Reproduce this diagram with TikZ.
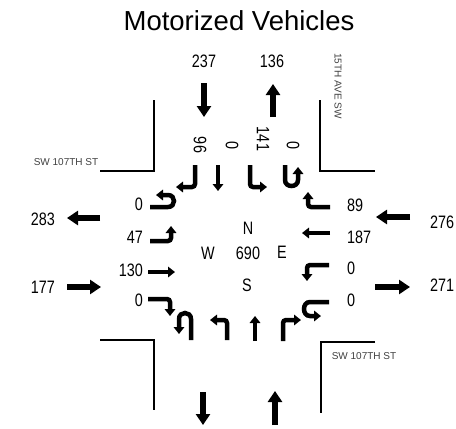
\documentclass[tikz,border=0pt]{standalone}
\usepackage{fontspec}
\setmainfont{Liberation Sans}
\newfontfamily\narrowfont[FakeStretch=0.8]{Liberation Sans}
\usepackage{tikz}
\usetikzlibrary{arrows.meta}

\begin{document}
\begin{tikzpicture}[
  x=1pt, y=-1pt,
  road/.style={line width=1.5pt},
  bigarrow/.style={line width=6pt, -{Triangle[length=11pt, width=14pt]}},
  turn/.style={line width=4.5pt, rounded corners=3pt, -{Triangle[length=7pt, width=10.5pt]}},
  count/.style={font=\narrowfont\fontsize{18}{18}\selectfont, inner sep=0pt},
  street/.style={font=\fontsize{10}{10}\selectfont, text=black!75, inner sep=0pt}
]
\useasboundingbox (0,0) rectangle (456,429);

% Title
\node[font=\fontsize{27.5}{28}\selectfont, inner sep=0pt] (title) at (239,21) {Motorized Vehicles};

% Curb lines
\draw[road] (100,171) -- (154,171) -- (154,100);
\draw[road] (320,100) -- (320,171) -- (375,171);
\draw[road] (100,340) -- (154,340) -- (154,410);
\draw[road] (375,342) -- (321,342) -- (321,413);

% Street names
\node[street] (wst) at (66,162) {SW 107TH ST};
\node[street] (est) at (364,356) {SW 107TH ST};
\node[street, rotate=-90] (nst) at (338,86) {15TH AVE SW};

% Approach and departure totals
\node[count] (ntot) at (204,61) {237};
\node[count] (nout) at (272,61) {136};
\node[count, anchor=east] (wout) at (55,219) {283};
\node[count, anchor=east] (wtot) at (55,287) {177};
\node[count, anchor=west] (etot) at (430,222) {276};
\node[count, anchor=west] (eout) at (430,285) {271};

\draw[bigarrow] (204,83) -- (204,117);
\draw[bigarrow] (273,117) -- (273,84);
\draw[bigarrow] (203,392) -- (203,425);
\draw[bigarrow] (275,425) -- (275,391);
\draw[bigarrow] (100,218) -- (67,218);
\draw[bigarrow] (67,287) -- (101,287);
\draw[bigarrow] (410,217) -- (376,217);
\draw[bigarrow] (375,287) -- (410,287);

% North leg movements
\node[count, rotate=-90] (nr) at (200,145) {96};
\node[count, rotate=-90] (nt) at (232,146) {0};
\node[count, rotate=-90] (nl) at (263,139) {141};
\node[count, rotate=-90] (nu) at (293,146) {0};
\draw[turn] (195,165) -- (195,187) -- (176,187);
\draw[turn] (218,165) -- (218,191);
\draw[turn] (250,165) -- (250,187) -- (267,187);
\draw[turn] (285,165) -- (285,177) .. controls (285,188) and (298,188) .. (298,177) -- (298,167);

% West leg movements
\node[count, anchor=east] (wu) at (143,204) {0};
\node[count, anchor=east] (wl) at (143,237) {47};
\node[count, anchor=east] (wt) at (143,270) {130};
\node[count, anchor=east] (wr) at (143,300) {0};
\draw[turn] (150,207) -- (165,207) .. controls (176,207) and (176,195) .. (165,195) -- (156,195);
\draw[turn] (150,241) -- (171,241) -- (171,226);
\draw[turn] (148,272) -- (175,272);
\draw[turn] (148,299) -- (170,299) -- (170,316);

% East leg movements
\node[count, anchor=west] (er) at (347,205) {89};
\node[count, anchor=west] (et) at (347,237) {187};
\node[count, anchor=west] (el) at (347,268) {0};
\node[count, anchor=west] (eu) at (347,300) {0};
\draw[turn] (330,207) -- (308,207) -- (308,192);
\draw[turn] (330,233) -- (302,233);
\draw[turn] (329,265) -- (307,265) -- (307,281);
\draw[turn] (329,302) -- (313,302) .. controls (302,302) and (302,316) .. (313,316) -- (321,316);

% South leg movements
\draw[turn] (191,340) -- (191,322) .. controls (191,311) and (179,311) .. (179,322) -- (179,334);
\draw[turn] (227,340) -- (227,320) -- (210,320);
\draw[turn] (255,341) -- (255,316);
\draw[turn] (283,341) -- (283,320) -- (301,320);

% Intersection total
\node[count] (north) at (248,228) {N};
\node[count] (west) at (208,253) {W};
\node[count] (total) at (248,253) {690};
\node[count] (east) at (282,252) {E};
\node[count] (south) at (247,285) {S};

\end{tikzpicture}
\end{document}
